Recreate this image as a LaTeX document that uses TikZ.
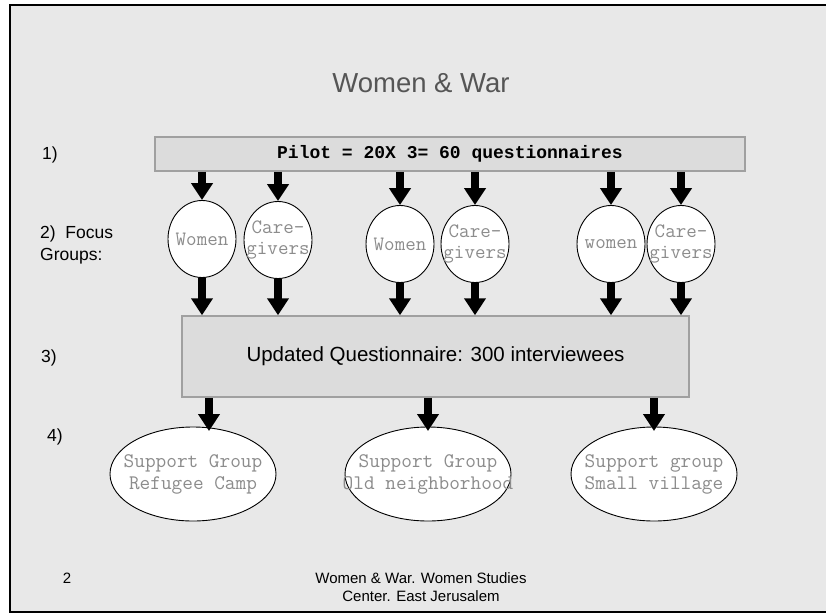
\documentclass[tikz,border=0pt]{standalone}
\usepackage{fontspec}
\setmainfont{Liberation Sans}
\newfontfamily\monofnt{Liberation Mono}
\usetikzlibrary{shapes.geometric,arrows.meta}
\definecolor{bggray}{HTML}{E8E8E8}
\definecolor{boxgray}{HTML}{DCDCDC}
\definecolor{boxline}{HTML}{A0A0A0}
\definecolor{titlegray}{HTML}{555555}
\definecolor{monogray}{HTML}{8C8C8C}
\tikzset{
  lbl/.style={anchor=west, inner sep=0pt, align=left, font=\fontsize{17.5}{22}\selectfont},
  fgtext/.style={inner sep=0pt, align=center, text=monogray, font=\ttfamily\fontsize{20.4}{21}\selectfont},
  sgtext/.style={inner sep=0pt, align=center, text=monogray, font=\ttfamily\fontsize{20.7}{22}\selectfont},
  fg/.style={ellipse, draw=black, line width=0.9pt, fill=white, minimum width=68pt, minimum height=77pt, inner sep=0pt, label={[fgtext]center:#1}},
  sg/.style={ellipse, draw=black, line width=0.9pt, fill=white, minimum width=166pt, minimum height=94pt, inner sep=0pt, label={[sgtext]center:#1}},
  graybox/.style={rectangle, draw=boxline, line width=1.5pt, fill=boxgray, inner sep=0pt},
  bigarrow/.style={line width=7.5pt, -{Triangle[width=21pt,length=17pt]}},
}
\begin{document}
\begin{tikzpicture}[x=1pt,y=-1pt]
\useasboundingbox (0,0) rectangle (826,615);
\clip (0,0) rectangle (826,615);
\draw[fill=bggray, line width=2.5pt] (10,5) rectangle (840,612);

% title
\node[text=titlegray, font=\fontsize{27.5}{32}\selectfont] (title) at (421,83) {Women \& War};

% left labels
\node[lbl] (l1) at (42,155) {1)};
\node[lbl] (l2) at (40,245) {2)\ \ Focus\\Groups:};
\node[lbl] (l3) at (41,358) {3)};
\node[lbl] (l4) at (47,437) {4)};

% pilot bar
\node[graybox, minimum width=590pt, minimum height=34pt, font=\monofnt\bfseries\fontsize{18}{22}\selectfont] (bar) at (450,154) {Pilot = 20X 3= 60 questionnaires};

% focus groups
\node[fg={Women}] (w1) at (202,239) {};
\node[fg={Care-\\givers}] (c1) at (278,240) {};
\node[fg={Women}] (w2) at (400,244) {};
\node[fg={Care-\\givers}] (c2) at (475,244) {};
\node[fg={women}] (w3) at (611,244) {};
\node[fg={Care-\\givers}] (c3) at (681,244) {};

% updated questionnaire
\node[graybox, minimum width=507pt, minimum height=81pt, font=\fontsize{20.5}{24}\selectfont] (upd) at (435.5,356.5) {Updated Questionnaire: 300 interviewees};

% support groups
\node[sg={Support Group\\Refugee Camp}] (s1) at (193,474) {};
\node[sg={Support Group\\Old neighborhood}] (s2) at (428,474) {};
\node[sg={Support group\\Small village}] (s3) at (654,474) {};

\coordinate (t1) at (209,431);
\coordinate (t2) at (428,431);
\coordinate (t3) at (654,431);

% arrows
\foreach \n in {w1,c1,w2,c2,w3,c3}{
  \draw[bigarrow] (bar.south -| \n.north) -- (\n.north);
  \draw[bigarrow] (\n.south) -- (\n.south |- upd.north);
}
\foreach \n in {t1,t2,t3}{
  \draw[bigarrow] (upd.south -| \n) -- (\n);
}

% footer
\node[font=\fontsize{15}{18}\selectfont] (pg) at (67,578) {2};
\node[font=\fontsize{15}{18.5}\selectfont, align=center] (foot) at (421,587) {Women \& War. Women Studies\\Center. East Jerusalem};
\end{tikzpicture}
\end{document}
